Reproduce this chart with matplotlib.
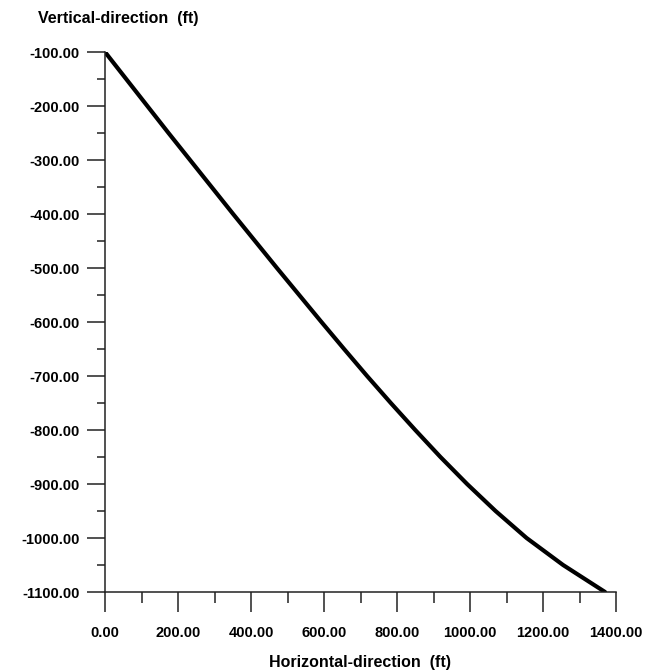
import matplotlib
matplotlib.use("Agg")
import matplotlib.pyplot as plt
from matplotlib.ticker import MultipleLocator, FormatStrFormatter

# Well trajectory: horizontal displacement vs vertical depth (ft)
horizontal_ft = [0, 58, 116, 174, 233, 292, 351, 411, 471, 532, 593,
                 655, 718, 783, 850, 919, 992, 1070, 1155, 1255, 1370]
vertical_ft = [-100, -150, -200, -250, -300, -350, -400, -450, -500, -550, -600,
               -650, -700, -750, -800, -850, -900, -950, -1000, -1050, -1100]

x_label = "Horizontal-direction  (ft)"
y_label = "Vertical-direction  (ft)"

plt.rcParams["font.family"] = ["Liberation Sans", "DejaVu Sans"]
plt.rcParams["font.weight"] = "bold"

fig = plt.figure(figsize=(6.64, 6.72), dpi=100)
ax = fig.add_axes([105 / 664, 80 / 672, 511 / 664, 540 / 672])

ax.plot(horizontal_ft, vertical_ft, color="black", lw=3.0,
        solid_capstyle="round", solid_joinstyle="round")

ax.set_xlim(0, 1400)
ax.set_ylim(-1100, -100)

for side in ("top", "right"):
    ax.spines[side].set_visible(False)
for side in ("left", "bottom"):
    ax.spines[side].set_color("#222222")
    ax.spines[side].set_linewidth(1.1)

ax.xaxis.set_major_locator(MultipleLocator(200))
ax.xaxis.set_minor_locator(MultipleLocator(100))
ax.yaxis.set_major_locator(MultipleLocator(100))
ax.yaxis.set_minor_locator(MultipleLocator(50))
ax.xaxis.set_major_formatter(FormatStrFormatter("%.2f"))
ax.yaxis.set_major_formatter(FormatStrFormatter("%.2f"))

ax.tick_params(axis="x", which="major", direction="out", length=14.5, width=1.1,
               color="#222222", pad=10, labelsize=10.5)
ax.tick_params(axis="x", which="minor", direction="out", length=8, width=1.1,
               color="#222222")
ax.tick_params(axis="y", which="major", direction="out", length=13, width=1.1,
               color="#222222", pad=5, labelsize=10.5)
ax.tick_params(axis="y", which="minor", direction="out", length=6, width=1.1,
               color="#222222")
for lbl in ax.get_xticklabels() + ax.get_yticklabels():
    lbl.set_fontweight("bold")

fig.text(118 / 664, 1 - 18 / 672, y_label, ha="center", va="center",
         fontsize=11.5, fontweight="bold")
fig.text(360 / 664, 1 - 663 / 672, x_label, ha="center", va="center",
         fontsize=11.5, fontweight="bold")

fig.savefig("out.png", dpi=100, facecolor="white")
